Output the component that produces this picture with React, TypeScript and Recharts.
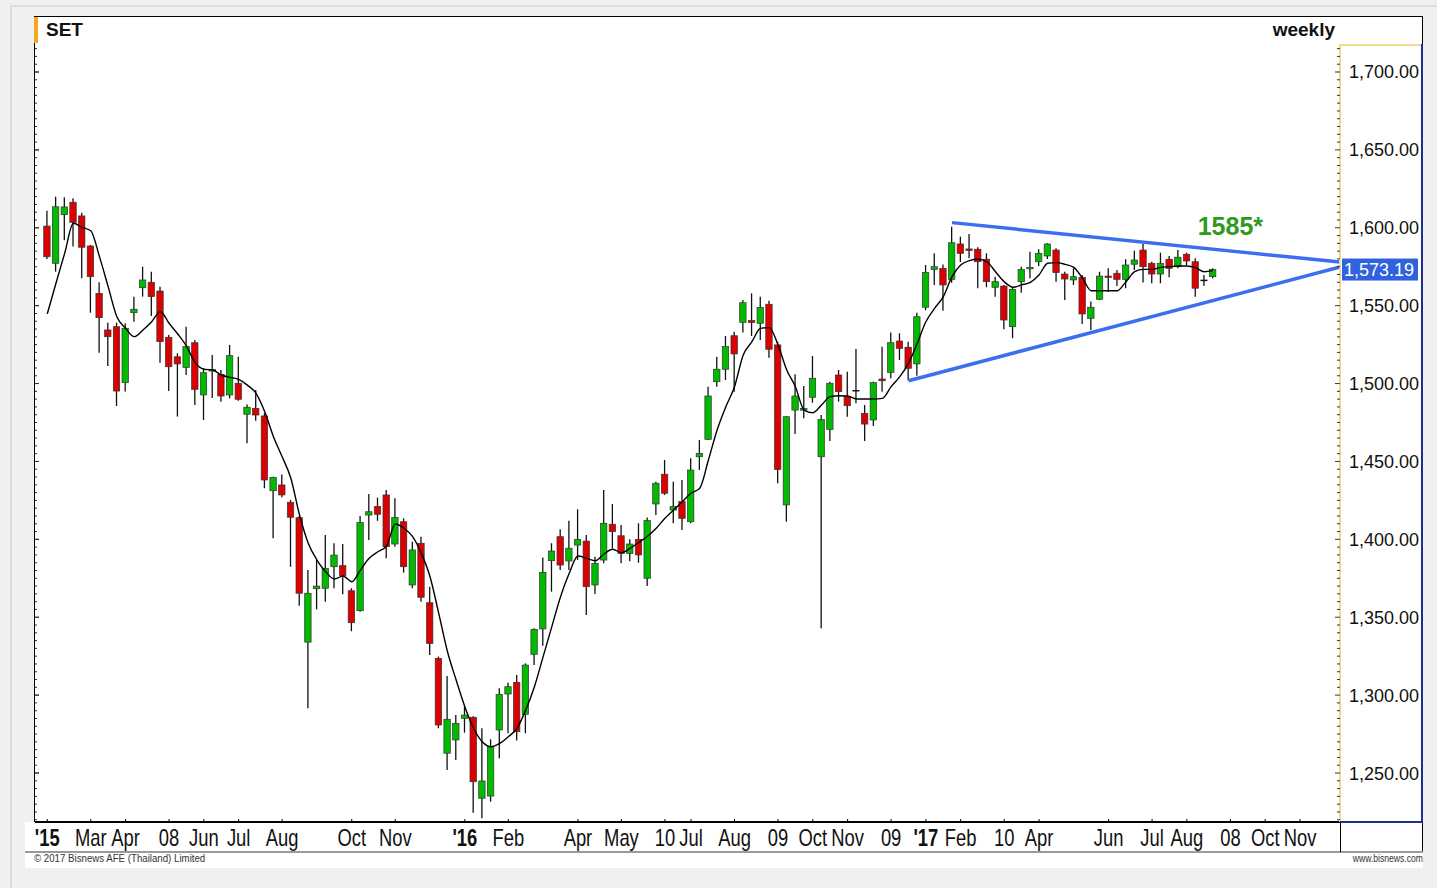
import React from 'react';
import { ComposedChart, Bar, Line, XAxis, YAxis, ReferenceLine, ReferenceDot } from 'recharts';

// Weekly SET index candles (index = week number from the first candle)
const opens = [
  1601.1, 1577.2, 1608.4, 1616.4, 1607.6, 1588.3, 1557.9, 1534.4, 1536.5, 1500.6,
  1545.5, 1561.5, 1565.0, 1559.4, 1529.7, 1517.2, 1510.4, 1526.2, 1492.7, 1508.2,
  1505.9, 1492.7, 1500.2, 1480.3, 1484.1, 1479.2, 1431.2, 1434.9, 1423.8, 1413.9,
  1334.0, 1368.3, 1368.6, 1382.4, 1383.1, 1367.0, 1354.2, 1415.6, 1421.0, 1428.5,
  1397.0, 1411.3, 1370.7, 1397.5, 1359.3, 1323.6, 1262.7, 1271.2, 1285.1, 1285.8,
  1233.8, 1235.2, 1277.6, 1300.7, 1308.2, 1287.7, 1326.2, 1342.5, 1386.3, 1401.7,
  1386.1, 1396.3, 1398.9, 1370.7, 1386.7, 1409.7, 1402.3, 1391.0, 1400.0, 1375.0,
  1422.7, 1441.8, 1418.8, 1424.2, 1411.3, 1453.0, 1464.2, 1501.2, 1509.2, 1530.7,
  1539.3, 1540.4, 1538.7, 1550.9, 1524.8, 1422.1, 1483.0, 1482.9, 1491.2, 1453.0,
  1470.6, 1505.5, 1491.6, 1495.0, 1480.9, 1476.6, 1502.9, 1507.2, 1527.3, 1523.3,
  1512.6, 1549.0, 1573.3, 1573.9, 1566.9, 1589.6, 1586.4, 1586.2, 1579.8, 1561.8,
  1562.6, 1536.5, 1565.4, 1574.0, 1578.2, 1581.9, 1585.7, 1570.3, 1566.5, 1568.2,
  1541.9, 1554.1, 1569.0, 1570.8, 1566.9, 1576.6, 1585.7, 1577.2, 1570.3, 1579.8,
  1575.0, 1583.0, 1578.2, 1566.0, 1568.6,
];
const highs = [
  1611.0, 1620.0, 1619.6, 1618.9, 1609.7, 1589.0, 1565.0, 1539.1, 1539.1, 1538.7,
  1555.7, 1575.0, 1571.8, 1562.2, 1531.2, 1519.4, 1536.5, 1528.0, 1509.8, 1518.3,
  1508.7, 1524.8, 1517.2, 1486.5, 1495.9, 1480.9, 1440.2, 1441.7, 1425.3, 1415.0,
  1380.3, 1386.7, 1402.8, 1397.5, 1397.0, 1368.6, 1415.0, 1429.1, 1426.7, 1431.7,
  1426.3, 1413.5, 1398.5, 1401.7, 1369.6, 1324.7, 1312.3, 1287.2, 1292.6, 1286.5,
  1278.7, 1271.6, 1304.4, 1308.0, 1312.9, 1320.4, 1342.9, 1388.4, 1397.5, 1406.4,
  1412.0, 1419.3, 1402.8, 1388.8, 1431.7, 1422.7, 1409.2, 1400.0, 1410.3, 1414.0,
  1437.0, 1450.9, 1437.0, 1438.1, 1452.0, 1463.8, 1498.0, 1517.2, 1530.5, 1533.3,
  1553.6, 1557.9, 1555.8, 1553.2, 1526.9, 1478.9, 1505.9, 1498.4, 1517.7, 1479.8,
  1501.2, 1508.7, 1507.6, 1522.2, 1486.2, 1501.2, 1523.7, 1532.7, 1532.3, 1526.9,
  1545.5, 1576.1, 1583.6, 1576.5, 1600.7, 1594.3, 1596.0, 1587.5, 1583.6, 1568.6,
  1563.3, 1561.8, 1575.0, 1584.6, 1586.2, 1590.1, 1586.8, 1571.8, 1574.0, 1569.7,
  1552.6, 1571.8, 1574.0, 1572.9, 1579.8, 1585.3, 1589.6, 1578.2, 1584.0, 1581.9,
  1585.7, 1584.0, 1580.4, 1569.7, 1574.0,
];
const lows = [
  1580.0, 1571.8, 1592.0, 1587.9, 1567.6, 1545.5, 1519.8, 1511.3, 1485.6, 1494.9,
  1539.7, 1555.8, 1543.4, 1513.4, 1495.2, 1478.8, 1505.5, 1486.2, 1476.6, 1490.7,
  1488.4, 1490.5, 1489.0, 1461.7, 1476.2, 1432.8, 1400.7, 1427.0, 1382.4, 1357.4,
  1291.5, 1355.0, 1360.0, 1368.6, 1364.7, 1341.0, 1353.5, 1399.6, 1411.9, 1387.8,
  1395.3, 1378.6, 1368.6, 1359.9, 1325.8, 1278.7, 1251.9, 1258.3, 1275.9, 1224.5,
  1220.9, 1231.6, 1259.4, 1275.5, 1270.8, 1275.5, 1319.3, 1331.7, 1366.4, 1380.3,
  1380.3, 1386.7, 1351.5, 1364.9, 1384.6, 1394.2, 1384.6, 1386.0, 1385.0, 1370.0,
  1415.6, 1428.5, 1410.3, 1406.0, 1410.3, 1444.5, 1463.8, 1498.0, 1502.3, 1494.8,
  1532.7, 1530.5, 1528.0, 1516.6, 1436.0, 1411.3, 1467.6, 1477.7, 1487.7, 1342.9,
  1463.1, 1488.4, 1478.7, 1487.3, 1463.1, 1472.8, 1494.8, 1503.4, 1515.1, 1502.0,
  1505.0, 1547.0, 1563.3, 1546.8, 1564.7, 1578.0, 1580.4, 1561.2, 1561.8, 1555.8,
  1534.8, 1529.1, 1558.3, 1567.6, 1575.5, 1580.0, 1565.4, 1553.6, 1563.3, 1538.2,
  1534.4, 1553.6, 1559.0, 1562.6, 1561.2, 1572.9, 1564.8, 1564.4, 1564.4, 1568.2,
  1574.0, 1576.1, 1555.8, 1562.6, 1567.6,
];
const closes = [
  1581.4, 1613.5, 1613.4, 1603.5, 1587.5, 1568.6, 1542.3, 1530.1, 1495.2, 1535.5,
  1547.7, 1566.5, 1555.8, 1526.9, 1510.8, 1512.6, 1523.7, 1496.3, 1507.0, 1509.0,
  1492.0, 1517.9, 1489.9, 1484.8, 1479.8, 1438.1, 1439.8, 1428.5, 1414.2, 1365.4,
  1365.4, 1370.0, 1381.4, 1389.9, 1376.7, 1346.5, 1410.9, 1417.7, 1416.1, 1395.3,
  1414.1, 1382.4, 1393.2, 1362.8, 1333.2, 1280.8, 1284.5, 1281.9, 1287.2, 1244.4,
  1244.9, 1266.9, 1300.5, 1305.4, 1276.5, 1319.3, 1342.2, 1378.8, 1392.5, 1383.5,
  1394.3, 1400.0, 1369.6, 1384.6, 1410.3, 1404.9, 1391.0, 1397.0, 1390.0, 1412.0,
  1436.0, 1429.6, 1421.0, 1413.5, 1444.5, 1455.2, 1492.0, 1509.2, 1523.7, 1519.0,
  1551.9, 1539.1, 1548.9, 1522.0, 1444.9, 1478.7, 1492.0, 1484.0, 1503.4, 1477.0,
  1500.2, 1494.8, 1485.8, 1495.4, 1474.0, 1500.6, 1501.8, 1526.2, 1522.6, 1509.8,
  1542.9, 1571.2, 1575.0, 1563.3, 1590.4, 1583.6, 1585.7, 1578.2, 1565.4, 1565.4,
  1540.8, 1560.5, 1573.3, 1574.6, 1583.6, 1589.6, 1571.2, 1567.1, 1568.6, 1544.7,
  1549.0, 1569.0, 1568.2, 1566.9, 1576.1, 1579.3, 1575.0, 1570.3, 1577.2, 1574.0,
  1581.1, 1578.7, 1561.2, 1566.2, 1573.19,
];
const movingAvg = [
  1544.7, 1564.4, 1583.6, 1602.9, 1600.3, 1598.1, 1581.5, 1562.2, 1542.9, 1535.5,
  1530.1, 1534.4, 1539.7, 1546.1, 1538.7, 1531.8, 1524.1, 1513.4, 1509.2, 1508.7,
  1505.5, 1504.0, 1502.7, 1499.0, 1493.7, 1481.9, 1465.9, 1453.0, 1439.2, 1415.6,
  1397.5, 1386.7, 1379.2, 1374.5, 1376.5, 1372.8, 1380.3, 1387.8, 1392.0, 1395.7,
  1409.8, 1407.1, 1401.7, 1391.0, 1376.0, 1352.5, 1328.0, 1309.7, 1292.6, 1278.7,
  1270.1, 1266.9, 1269.0, 1273.3, 1278.7, 1290.5, 1305.4, 1324.7, 1344.0, 1363.2,
  1378.2, 1389.3, 1387.8, 1386.3, 1390.6, 1393.6, 1391.4, 1394.2, 1398.0, 1402.0,
  1407.1, 1413.5, 1418.8, 1424.2, 1429.6, 1432.8, 1450.9, 1470.2, 1485.1, 1498.0,
  1518.3, 1526.9, 1535.5, 1535.9, 1524.8, 1508.7, 1498.0, 1483.0, 1481.3, 1486.2,
  1491.6, 1492.2, 1492.0, 1490.1, 1490.1, 1490.1, 1490.5, 1498.0, 1504.4, 1513.0,
  1525.8, 1539.7, 1548.3, 1555.8, 1568.6, 1576.1, 1578.9, 1579.8, 1578.2, 1571.8,
  1565.4, 1561.8, 1563.3, 1565.0, 1569.7, 1577.2, 1577.6, 1576.5, 1574.6, 1567.6,
  1559.6, 1559.6, 1559.6, 1559.6, 1565.4, 1571.8, 1573.3, 1573.3, 1574.6, 1575.0,
  1575.5, 1575.5, 1574.4, 1571.8, 1572.5,
];

const xTickIdx = [0, 5, 9, 14, 18, 22, 27, 35, 40, 48, 53, 61, 66, 71, 74, 79, 84, 88, 92, 97, 101, 105, 110, 114, 122, 127, 131, 136, 140, 144];
const xTickLabels = ["'15", 'Mar', 'Apr', '08', 'Jun', 'Jul', 'Aug', 'Oct', 'Nov', "'16", 'Feb', 'Apr', 'May', '10', 'Jul', 'Aug', '09', 'Oct', 'Nov', '09', "'17", 'Feb', '10', 'Apr', 'Jun', 'Jul', 'Aug', '08', 'Oct', 'Nov'];
const yMajorTicks = [1250, 1300, 1350, 1400, 1450, 1500, 1550, 1600, 1650, 1700];
const yMinorTicks: number[] = [];
for (let v = 1220; v <= 1715; v += 5) yMinorTicks.push(v);

const lastPrice = 1573.19;
const upperTrend = [{ x: 104, y: 1603.3 }, { x: 148.6, y: 1578.0 }];
const lowerTrend = [{ x: 99, y: 1501.8 }, { x: 148.6, y: 1574.8 }];
const targetNote = { x: 136, y: 1601, text: '1585*' };

const X_DOMAIN: [number, number] = [-1.41, 148.6];
const Y_DOMAIN: [number, number] = [1218.55, 1717.97];

const GREEN = '#00bb00';
const RED = '#dd0000';
const BLUE = '#3b6ff0';
const FONT = "Arial, 'Liberation Sans', sans-serif";

const data = opens.map((o, i) => ({
  i,
  open: o,
  high: highs[i],
  low: lows[i],
  close: closes[i],
  range: [lows[i], highs[i]],
  ma: movingAvg[i],
}));

const Candle = (props: any) => {
  const { x, y, width, height, payload } = props;
  if (!payload) return null;
  const { open, close, high, low } = payload;
  const cx = x + width / 2;
  const k = high === low ? 0 : height / (high - low);
  const py = (v: number) => y + (high - v) * k;
  const top = py(Math.max(open, close));
  const bot = py(Math.min(open, close));
  const doji = Math.abs(close - open) < 0.5;
  const color = close >= open ? GREEN : RED;
  return (
    <g>
      <line x1={cx} x2={cx} y1={y} y2={y + height} stroke="#111" strokeWidth={1.3} />
      {doji ? (
        <line x1={cx - 3.5} x2={cx + 3.5} y1={top} y2={top} stroke="#111" strokeWidth={1.5} />
      ) : (
        <rect x={cx - 3.2} y={top} width={6.4} height={Math.max(bot - top, 1.5)} fill={color} stroke="#333" strokeWidth={0.7} />
      )}
    </g>
  );
};

const XTick = (props: any) => {
  const { x, y, payload } = props;
  const idx = xTickIdx.indexOf(payload.value);
  const label = xTickLabels[idx] ?? '';
  const bold = label.startsWith("'");
  return (
    <g>
      <line x1={x} x2={x} y1={y - 3} y2={y} stroke="#000" strokeWidth={1} />
      <text
        transform={`translate(${x},${y + 24}) scale(0.8,1)`}
        textAnchor="middle"
        fontFamily={FONT}
        fontSize={23}
        fontWeight={bold ? 700 : 400}
        fill="#111"
      >
        {label}
      </text>
    </g>
  );
};

const RightTick = (props: any) => {
  const { x, y, payload } = props;
  const v = payload.value;
  const major = v % 50 === 0;
  return (
    <g>
      <line x1={x - (major ? 5 : 3)} x2={x} y1={y} y2={y} stroke="#333" strokeWidth={1} />
      {major ? (
        <text x={x + 9} y={y + 6.5} fontFamily={FONT} fontSize={18} fill="#111">
          {v.toLocaleString('en-US', { minimumFractionDigits: 2, maximumFractionDigits: 2 })}
        </text>
      ) : null}
    </g>
  );
};

const LeftTick = (props: any) => {
  const { x, y, payload } = props;
  const major = payload.value % 50 === 0;
  return <line x1={x} x2={x + (major ? 4 : 2)} y1={y} y2={y} stroke="#333" strokeWidth={1} />;
};

const PriceTag = (props: any) => {
  const vb = props.viewBox || {};
  const x0 = vb.x + vb.width + 2;
  const yc = vb.y;
  return (
    <g>
      <rect x={x0} y={yc - 11} width={76} height={22} fill="#2f62dc" />
      <text x={x0 + 2} y={yc + 6.5} fontFamily={FONT} fontSize={18} fill="#fff">
        {lastPrice.toLocaleString('en-US', { minimumFractionDigits: 2 })}
      </text>
    </g>
  );
};

const NoteLabel = (props: any) => {
  const vb = props.viewBox || {};
  return (
    <text x={vb.cx ?? vb.x} y={(vb.cy ?? vb.y) + 9} textAnchor="middle" fontFamily={FONT} fontSize={25} fontWeight={700} fill="#2e9a1c">
      {targetNote.text}
    </text>
  );
};

export default function App() {
  return (
    <div style={{ position: 'absolute', left: 0, top: 0, width: 1437, height: 888, background: '#f0f0f0', overflow: 'hidden', fontFamily: FONT }}>
      {/* outer panel edges */}
      <div style={{ position: 'absolute', left: 12, top: 5, width: 1425, height: 2, background: '#dcdcdc' }} />
      <div style={{ position: 'absolute', left: 10, top: 5, width: 2, height: 883, background: '#dcdcdc' }} />
      {/* chart box */}
      <div style={{ position: 'absolute', left: 34, top: 16, width: 1389, height: 806, background: '#fff', borderTop: '1px solid #000', borderLeft: '1px solid #000', borderRight: '1px solid #000', boxSizing: 'border-box' }} />
      {/* x axis strip */}
      <div style={{ position: 'absolute', left: 25, top: 822, width: 1398, height: 30, background: '#fff', borderRight: '1px solid #000', boxSizing: 'border-box' }} />
      <div style={{ position: 'absolute', left: 25, top: 851, width: 1398, height: 2, background: '#9a9a9a' }} />
      {/* footer strip */}
      <div style={{ position: 'absolute', left: 25, top: 853, width: 1398, height: 15, background: '#fff' }} />
      <div style={{ position: 'absolute', left: 34, top: 852, fontSize: 11, color: '#333', transform: 'scaleX(0.88)', transformOrigin: 'left top', whiteSpace: 'nowrap' }}>
        © 2017 Bisnews AFE (Thailand) Limited
      </div>
      <div style={{ position: 'absolute', right: 14, top: 852, fontSize: 11, color: '#333', transform: 'scaleX(0.78)', transformOrigin: 'right top', whiteSpace: 'nowrap' }}>
        www.bisnews.com
      </div>

      <div style={{ position: 'absolute', left: 0, top: 0 }}>
        <ComposedChart width={1437} height={888} data={data} margin={{ top: 44, right: 14, bottom: 36, left: 34 }}>
          <XAxis
            dataKey="i"
            type="number"
            domain={X_DOMAIN}
            allowDataOverflow
            ticks={xTickIdx}
            interval={0}
            height={30}
            tickSize={0}
            tickMargin={0}
            tickLine={false}
            tick={<XTick />}
            axisLine={{ stroke: '#000', strokeWidth: 2 }}
          />
          <YAxis
            yAxisId="l"
            orientation="left"
            width={1}
            domain={Y_DOMAIN}
            allowDataOverflow
            ticks={yMajorTicks.concat(yMinorTicks)}
            interval={0}
            tickSize={0}
            tickMargin={0}
            tickLine={false}
            axisLine={false}
            tick={<LeftTick />}
          />
          <YAxis
            yAxisId="p"
            orientation="right"
            width={83}
            domain={Y_DOMAIN}
            allowDataOverflow
            ticks={yMinorTicks}
            interval={0}
            tickSize={0}
            tickMargin={0}
            tickLine={false}
            axisLine={{ stroke: '#f2d98c', strokeWidth: 2 }}
            tick={<RightTick />}
          />
          <Bar yAxisId="p" dataKey="range" barSize={6} shape={<Candle />} isAnimationActive={false} />
          <Line yAxisId="p" dataKey="ma" type="monotone" stroke="#000" strokeWidth={1.4} dot={false} isAnimationActive={false} />
          <ReferenceLine yAxisId="p" segment={upperTrend} stroke={BLUE} strokeWidth={3.5} ifOverflow="visible" />
          <ReferenceLine yAxisId="p" segment={lowerTrend} stroke={BLUE} strokeWidth={3.5} ifOverflow="visible" />
          <ReferenceLine yAxisId="p" y={lastPrice} stroke="none" ifOverflow="visible" label={<PriceTag />} />
          <ReferenceDot yAxisId="p" x={targetNote.x} y={targetNote.y} r={0} fill="none" stroke="none" ifOverflow="visible" label={<NoteLabel />} />
        </ComposedChart>
      </div>

      {/* right axis frame */}
      <div style={{ position: 'absolute', left: 1340, top: 44, width: 82, height: 2, background: '#f2d98c' }} />
      <div style={{ position: 'absolute', left: 1421, top: 44, width: 2, height: 779, background: '#1c2f8c' }} />
      <div style={{ position: 'absolute', left: 1340, top: 821, width: 83, height: 2, background: '#1c2f8c' }} />
      <div style={{ position: 'absolute', left: 1340, top: 823, width: 1, height: 29, background: '#000' }} />
      {/* title */}
      <div style={{ position: 'absolute', left: 34, top: 17, width: 4, height: 26, background: '#f5a623' }} />
      <div style={{ position: 'absolute', left: 46, top: 19, fontSize: 19, fontWeight: 700, color: '#111' }}>SET</div>
      <div style={{ position: 'absolute', right: 102, top: 19, fontSize: 19, fontWeight: 700, color: '#111' }}>weekly</div>
    </div>
  );
}
